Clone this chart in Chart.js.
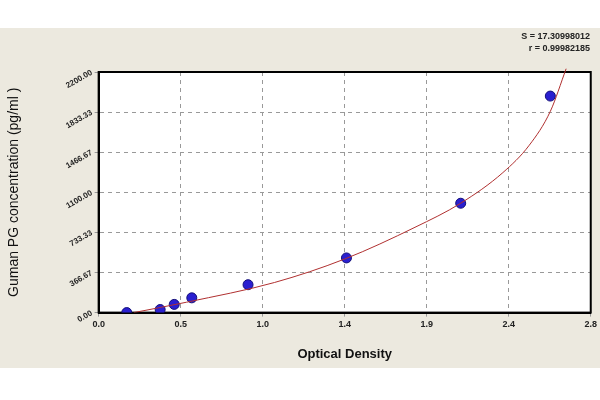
<!DOCTYPE html>
<html><head>
<script src="https://cdn.jsdelivr.net/npm/chart.js@4"></script>
<style>
body{margin:0;background:#fff;}
#wrap{position:absolute;left:0;top:28px;width:600px;height:340px;background:#ece9df;}
#stats{position:absolute;right:10px;top:2px;font:bold 9px "Liberation Sans",Arial;text-align:right;color:#222;line-height:12px;}
</style>
</head><body>
<div id="wrap"><canvas id="c" width="600" height="340"></canvas>
<div id="stats">S = 17.30998012<br>r = 0.99982185</div></div>
<script>
// DATA
const odValues = [0.16, 0.35, 0.43, 0.53, 0.85, 1.41, 2.06, 2.57];
const concValues = [0, 28, 75, 135, 255, 500, 1000, 1980];
const curveOd = [0.2, 0.5, 1.0, 1.4, 1.8, 2.06, 2.3, 2.45, 2.57, 2.66];
const curveConc = [0, 95, 275, 490, 780, 1000, 1280, 1530, 1840, 2230];
const xTickLabels = ['0.0','0.5','1.0','1.4','1.9','2.4','2.8'];
const yTickLabels = ['0.00','366.67','733.33','1100.00','1466.67','1833.33','2200.00'];

const xStep = 2.8 / 6, yStep = 2200 / 6;

new Chart(document.getElementById('c'), {
    type: 'scatter',
    data: {
        datasets: [
            {
                type: 'line',
                data: curveOd.map((x, i) => ({x: x, y: curveConc[i]})),
                borderColor: '#b03030',
                borderWidth: 1,
                pointRadius: 0,
                cubicInterpolationMode: 'monotone',
                clip: {top: 30, left: 0, right: 0, bottom: 0}
            },
            {
                data: odValues.map((x, i) => ({x: x, y: concValues[i]})),
                backgroundColor: '#2a1fd0',
                borderColor: '#14107a',
                borderWidth: 1,
                pointRadius: 5
            }
        ]
    },
    options: {
        responsive: false,
        animation: false,
        layout: {padding: {top: 44, right: 8, left: 2, bottom: 2}},
        plugins: {legend: {display: false}, tooltip: {enabled: false}},
        scales: {
            x: {
                type: 'linear', min: 0, max: 2.8,
                afterBuildTicks: a => { a.ticks = xTickLabels.map((_, i) => ({value: i * xStep})); },
                ticks: {callback: (v, i) => xTickLabels[i], color: '#222', font: {size: 9, weight: 'bold'}},
                grid: {color: '#999', tickLength: 4, drawTicks: true},
                border: {color: '#000', width: 2, dash: [4, 4]},
                title: {display: true, text: 'Optical Density', color: '#111', font: {size: 13, weight: 'bold'}, padding: {top: 13, bottom: 4}}
            },
            y: {
                min: 0, max: 2200,
                afterBuildTicks: a => { a.ticks = yTickLabels.map((_, i) => ({value: i * yStep})); },
                ticks: {callback: (v, i) => yTickLabels[i], color: '#222', font: {size: 8, weight: 'bold'}, minRotation: 30, maxRotation: 30},
                grid: {color: '#999', tickLength: 4},
                border: {color: '#000', width: 2, dash: [4, 4]},
                title: {display: true, text: 'Guman PG concentration (pg/ml )', color: '#111', font: {size: 14}, padding: {top: 4, bottom: 36}}
            }
        }
    },
    plugins: [{
        id: 'bg',
        beforeDraw: ch => {
            const a = ch.chartArea, g = ch.ctx;
            g.save(); g.fillStyle = '#fff';
            g.fillRect(a.left, a.top, a.right - a.left, a.bottom - a.top);
            g.restore();
        },
        beforeDatasetsDraw: ch => {
            const a = ch.chartArea, g = ch.ctx;
            g.save(); g.strokeStyle = '#000'; g.lineWidth = 2;
            g.strokeRect(a.left, a.top, a.right - a.left, a.bottom - a.top);
            g.restore();
        }
    }]
});
</script>
</body></html>
